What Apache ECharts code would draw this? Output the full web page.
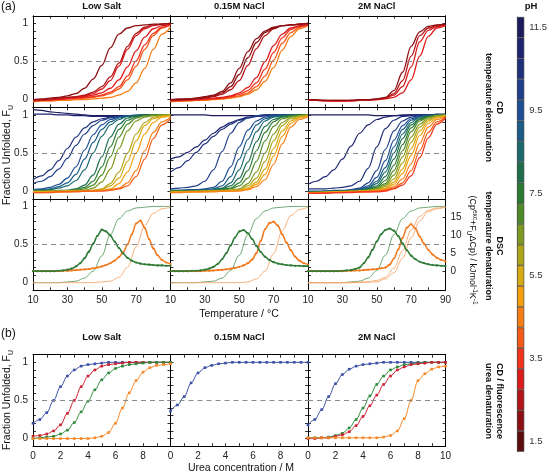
<!DOCTYPE html>
<html><head><meta charset="utf-8">
<script src="https://cdn.jsdelivr.net/npm/echarts@6/dist/echarts.min.js"></script>
<style>html,body{margin:0;padding:0;background:#fff}#c{width:550px;height:474px}</style>
</head><body><div id="c"></div>
<script>
// ================= DATA =================
const columnTitles = ['Low Salt', '0.15M NaCl', '2M NaCl'];
const phLevels = ['1.5','2.0','2.5','3.0','3.5','4.0','4.5','5.0','5.5','6.0','6.5','7.0','7.5','8.0','8.5','9.0','9.5','10.0','10.5','11.0','11.5'];
const phColors = ['#5e0b0d','#8c1013','#b41518','#dc1c1c','#f2341c','#f65a18','#f77e14','#f4a00e','#d6aa12','#aea61a','#7e9a22','#4f8a2a','#2b7a32','#1e6e4e','#1a6a6c','#1b5c86','#1e4e94','#1f3f8a','#1f307c','#1e2470','#1b1b5e'];
const phTickLabels = ['1.5','3.5','5.5','7.5','9.5','11.5'];
const fracTickLabels = [0, 0.5, 1];
const tempTickLabels = [10, 30, 50, 70, 90];
const ureaTickLabels = [0, 2, 4, 6, 8, 10];
const cpTickLabels = [0, 5, 10, 15];

const tempGrid = [10,15,20,25,30,35,40,45,50,55,60,65,70,75,80,85,90];
const dscTempGrid = [10,12.5,15,17.5,20,22.5,25,27.5,30,32.5,35,37.5,40,42.5,45,47.5,50,52.5,55,57.5,60,62.5,65,67.5,70,72.5,75,77.5,80,82.5,85,87.5,90];
const ureaGrid = [0,0.5,1,1.5,2,2.5,3,3.5,4,4.5,5,5.5,6,6.5,7,7.5,8,8.5,9,9.5,10];

// CD temperature denaturation, acidic pH (top row)
const cdAcidLowPH = [2.0, 2.5, 3.0, 3.0, 3.5, 4.0, 4.5];
const cdAcidLow = [
  [0.00,0.01,0.02,0.03,0.05,0.08,0.15,0.27,0.45,0.68,0.86,0.94,0.97,0.98,0.99,0.99,1.00],
  [-0.01,0.00,0.01,0.02,0.03,0.04,0.06,0.10,0.17,0.30,0.48,0.70,0.87,0.95,0.98,0.99,1.00],
  [-0.01,0.00,0.00,0.01,0.02,0.03,0.05,0.08,0.14,0.25,0.44,0.66,0.84,0.93,0.97,0.99,1.00],
  [-0.01,-0.01,0.00,0.01,0.02,0.03,0.04,0.06,0.09,0.15,0.26,0.43,0.64,0.82,0.93,0.97,0.99],
  [-0.02,-0.01,0.00,0.00,0.01,0.02,0.03,0.04,0.06,0.10,0.17,0.31,0.51,0.72,0.87,0.95,0.98],
  [-0.02,-0.01,-0.01,0.00,0.01,0.01,0.02,0.03,0.05,0.08,0.14,0.26,0.44,0.66,0.84,0.94,0.98],
  [-0.03,-0.02,-0.02,-0.01,-0.01,0.00,0.00,0.01,0.02,0.03,0.06,0.11,0.22,0.41,0.66,0.86,0.95]
];
const cdAcidMidPH = [2.0, 2.0, 2.5, 3.0, 3.5, 4.0, 4.5];
const cdAcidMid = [
  [0.00,0.01,0.01,0.02,0.04,0.06,0.11,0.22,0.41,0.63,0.80,0.90,0.95,0.97,0.98,0.99,1.00],
  [0.00,0.00,0.01,0.02,0.03,0.05,0.09,0.17,0.33,0.55,0.75,0.88,0.94,0.97,0.98,0.99,1.00],
  [-0.01,0.00,0.00,0.01,0.02,0.04,0.07,0.13,0.25,0.45,0.67,0.84,0.93,0.97,0.98,0.99,1.00],
  [-0.01,-0.01,0.00,0.00,0.01,0.02,0.03,0.05,0.09,0.16,0.29,0.50,0.71,0.86,0.94,0.97,0.99],
  [-0.02,-0.01,-0.01,0.00,0.01,0.01,0.02,0.04,0.07,0.12,0.22,0.40,0.62,0.81,0.92,0.96,0.98],
  [-0.02,-0.02,-0.01,-0.01,0.00,0.01,0.01,0.03,0.05,0.09,0.17,0.31,0.52,0.74,0.88,0.95,0.98],
  [-0.03,-0.02,-0.02,-0.01,-0.01,0.00,0.01,0.02,0.04,0.07,0.13,0.24,0.42,0.65,0.83,0.93,0.97]
];
const cdAcidHighPH = [2.0, 2.5, 3.0, 3.0];
const cdAcidHigh = [
  [0.00,0.00,-0.01,-0.01,-0.01,-0.01,0.00,0.00,0.01,0.03,0.12,0.36,0.70,0.89,0.96,0.98,0.99],
  [0.00,-0.01,-0.01,-0.01,-0.01,-0.01,0.00,0.00,0.01,0.02,0.08,0.25,0.57,0.84,0.94,0.97,0.99],
  [-0.01,-0.01,-0.01,-0.02,-0.02,-0.01,-0.01,0.00,0.00,0.02,0.06,0.17,0.43,0.76,0.91,0.96,0.98],
  [-0.01,-0.01,-0.02,-0.02,-0.02,-0.02,-0.01,-0.01,0.00,0.01,0.03,0.09,0.26,0.57,0.83,0.94,0.97]
];

// CD temperature denaturation, neutral/alkaline pH (middle row)
const cdBaseLowPH = [11.5, 11.0, 10.5, 10.0, 9.5, 9.0, 8.5, 8.0, 7.5, 7.0, 6.5, 6.0, 5.5, 5.0, 4.5, 4.0];
const cdBaseLow = [
  [1.07,1.06,1.04,1.03,1.02,1.01,1.00,0.99,0.99,0.99,0.99,0.99,0.99,1.00,1.00,1.00,1.00],
  [1.01,1.01,1.01,1.00,1.00,0.99,0.99,0.98,0.98,0.98,0.98,0.99,0.99,0.99,1.00,1.00,1.00],
  [0.15,0.20,0.28,0.40,0.56,0.71,0.83,0.91,0.95,0.97,0.98,0.99,0.99,1.00,1.00,1.00,1.00],
  [0.10,0.13,0.19,0.29,0.43,0.60,0.75,0.86,0.93,0.96,0.98,0.99,0.99,1.00,1.00,1.00,1.00],
  [0.02,0.03,0.05,0.09,0.17,0.32,0.54,0.74,0.87,0.94,0.97,0.99,1.00,1.00,1.00,1.00,1.00],
  [0.01,0.02,0.03,0.06,0.11,0.22,0.42,0.64,0.81,0.91,0.96,0.98,0.99,1.00,1.00,1.00,1.00],
  [0.01,0.01,0.02,0.04,0.07,0.14,0.28,0.50,0.72,0.87,0.94,0.98,0.99,1.00,1.00,1.00,1.00],
  [0.00,0.00,0.00,0.01,0.01,0.03,0.08,0.21,0.45,0.71,0.88,0.96,0.99,1.00,1.00,1.00,1.00],
  [0.00,0.00,0.00,0.00,0.01,0.02,0.05,0.13,0.32,0.58,0.81,0.93,0.97,0.99,1.00,1.00,1.00],
  [0.00,0.00,0.00,0.00,0.00,0.01,0.03,0.08,0.21,0.45,0.71,0.88,0.96,0.99,1.00,1.00,1.00],
  [0.00,0.00,0.00,0.00,0.00,0.01,0.01,0.04,0.12,0.29,0.56,0.79,0.92,0.97,0.99,1.00,1.00],
  [-0.01,-0.01,0.00,0.00,0.00,0.00,0.01,0.01,0.03,0.10,0.25,0.50,0.75,0.90,0.97,0.99,1.00],
  [-0.01,-0.01,-0.01,0.00,0.00,0.00,0.00,0.01,0.02,0.07,0.17,0.39,0.66,0.86,0.95,0.98,0.99],
  [-0.01,-0.01,-0.01,-0.01,0.00,0.00,0.00,0.01,0.01,0.03,0.10,0.25,0.50,0.75,0.90,0.97,0.99],
  [-0.02,-0.02,-0.01,-0.01,-0.01,0.00,0.00,0.00,0.01,0.02,0.04,0.11,0.27,0.53,0.77,0.91,0.97],
  [-0.02,-0.02,-0.02,-0.01,-0.01,-0.01,0.00,0.00,0.00,0.01,0.03,0.07,0.19,0.42,0.69,0.87,0.95]
];
const cdBaseMidPH = [11.5, 11.0, 10.5, 10.0, 9.5, 9.0, 8.5, 8.0, 7.5, 7.0, 6.5, 6.0, 5.5, 5.0, 4.5];
const cdBaseMid = [
  [1.00,1.00,1.00,1.00,1.00,0.99,0.99,0.99,0.99,0.99,0.99,1.00,1.00,1.00,1.00,1.00,1.00],
  [0.42,0.45,0.51,0.58,0.67,0.76,0.84,0.90,0.94,0.97,0.98,0.99,1.00,1.00,1.00,1.00,1.00],
  [0.25,0.31,0.40,0.51,0.62,0.72,0.81,0.88,0.93,0.96,0.98,0.99,1.00,1.00,1.00,1.00,1.00],
  [0.03,0.04,0.05,0.07,0.13,0.28,0.52,0.76,0.90,0.96,0.99,1.00,1.00,1.00,1.00,1.00,1.00],
  [0.01,0.01,0.02,0.02,0.03,0.05,0.13,0.32,0.58,0.80,0.92,0.97,0.99,1.00,1.00,1.00,1.00],
  [0.01,0.01,0.01,0.02,0.02,0.03,0.07,0.19,0.42,0.68,0.87,0.95,0.98,0.99,1.00,1.00,1.00],
  [0.00,0.00,0.01,0.01,0.01,0.02,0.04,0.11,0.28,0.54,0.78,0.92,0.97,0.99,1.00,1.00,1.00],
  [0.00,0.00,0.00,0.00,0.01,0.01,0.03,0.07,0.17,0.38,0.65,0.85,0.94,0.98,0.99,1.00,1.00],
  [0.00,0.00,0.00,0.00,0.00,0.01,0.02,0.04,0.11,0.27,0.53,0.77,0.91,0.97,0.99,1.00,1.00],
  [0.00,0.00,0.00,0.00,0.00,0.00,0.01,0.03,0.07,0.17,0.39,0.66,0.85,0.95,0.98,0.99,1.00],
  [-0.01,-0.01,0.00,0.00,0.00,0.00,0.01,0.01,0.03,0.10,0.25,0.50,0.75,0.90,0.97,0.99,1.00],
  [-0.01,-0.01,-0.01,0.00,0.00,0.00,0.00,0.01,0.02,0.07,0.17,0.39,0.66,0.86,0.95,0.98,0.99],
  [-0.01,-0.01,-0.01,-0.01,0.00,0.00,0.00,0.01,0.01,0.04,0.12,0.29,0.56,0.79,0.92,0.97,0.99],
  [-0.02,-0.01,-0.01,-0.01,-0.01,0.00,0.00,0.00,0.01,0.03,0.09,0.22,0.46,0.72,0.89,0.96,0.99],
  [-0.02,-0.02,-0.01,-0.01,-0.01,-0.01,0.00,0.00,0.00,0.02,0.06,0.15,0.35,0.62,0.84,0.94,0.98]
];
const cdBaseHighPH = [11.5, 11.0, 10.5, 10.0, 9.5, 9.0, 8.5, 8.0, 7.5, 7.0, 6.5, 6.0, 5.5, 5.0, 4.5, 4.0, 3.5];
const cdBaseHigh = [
  [1.00,1.00,1.00,1.00,1.00,1.00,1.00,1.00,0.99,0.99,0.99,0.99,1.00,1.00,1.00,1.01,1.01],
  [0.09,0.13,0.19,0.28,0.42,0.59,0.76,0.87,0.94,0.97,0.99,1.00,1.00,1.00,1.00,1.00,1.00],
  [0.03,0.03,0.03,0.04,0.05,0.07,0.13,0.30,0.58,0.82,0.93,0.98,0.99,1.00,1.00,1.00,1.00],
  [0.00,0.00,0.00,0.01,0.01,0.02,0.04,0.11,0.27,0.55,0.79,0.92,0.97,0.99,1.00,1.00,1.00],
  [-0.01,-0.01,0.00,0.00,0.00,0.01,0.03,0.07,0.18,0.40,0.67,0.86,0.95,0.98,0.99,1.00,1.00],
  [-0.01,-0.01,0.00,0.00,0.00,0.01,0.02,0.05,0.13,0.31,0.58,0.81,0.93,0.97,0.99,1.00,1.00],
  [-0.01,-0.01,-0.01,0.00,0.00,0.00,0.01,0.04,0.10,0.25,0.50,0.75,0.90,0.97,0.99,1.00,1.00],
  [-0.01,-0.01,-0.01,0.00,0.00,0.00,0.01,0.03,0.07,0.19,0.42,0.69,0.87,0.95,0.98,0.99,1.00],
  [-0.02,-0.01,-0.01,-0.01,0.00,0.00,0.01,0.02,0.05,0.14,0.34,0.61,0.83,0.94,0.98,0.99,1.00],
  [-0.02,-0.01,-0.01,-0.01,0.00,0.00,0.00,0.01,0.04,0.10,0.27,0.53,0.78,0.92,0.97,0.99,1.00],
  [-0.02,-0.02,-0.01,-0.01,-0.01,0.00,0.00,0.01,0.03,0.08,0.21,0.45,0.71,0.88,0.96,0.99,1.00],
  [-0.02,-0.02,-0.01,-0.01,-0.01,0.00,0.00,0.01,0.02,0.06,0.16,0.37,0.64,0.84,0.94,0.98,0.99],
  [-0.02,-0.02,-0.02,-0.01,-0.01,-0.01,0.00,0.00,0.01,0.04,0.12,0.29,0.56,0.79,0.92,0.97,0.99],
  [-0.02,-0.02,-0.02,-0.01,-0.01,-0.01,0.00,0.00,0.01,0.03,0.09,0.23,0.47,0.73,0.89,0.96,0.99],
  [-0.03,-0.02,-0.02,-0.02,-0.01,-0.01,-0.01,0.00,0.00,0.02,0.06,0.16,0.36,0.63,0.84,0.94,0.98],
  [-0.03,-0.03,-0.02,-0.02,-0.02,-0.01,-0.01,-0.01,0.00,0.01,0.04,0.11,0.27,0.53,0.77,0.91,0.97],
  [-0.03,-0.03,-0.03,-0.02,-0.02,-0.02,-0.01,-0.01,-0.01,0.00,0.03,0.08,0.20,0.44,0.70,0.88,0.96]
];

// DSC: excess heat capacity (kJ/mol/K, right axis) and fraction unfolded (left axis)
const dscCpGreenLow  = [0,0,0,0,0,0,0.1,0.2,0.4,0.7,1.3,2.2,3.6,5.4,7.6,9.8,11.5,11.0,9.9,8.2,6.4,4.9,3.7,2.9,2.4,2.1,1.9,1.8,1.7,1.6,1.6,1.5,1.5];
const dscCpOrangeLow = [0,0,0,0,0,0,0,0.1,0.1,0.2,0.3,0.4,0.5,0.6,0.8,1.0,1.3,1.7,2.2,2.9,3.9,5.3,7.4,10.2,13.2,14.0,12.0,8.9,6.3,4.4,3.1,2.4,2.0];
const dscCpGreenMid  = [0,0,0,0,0,0.1,0.1,0.2,0.4,0.7,1.2,2.0,3.3,5.0,7.1,9.3,11.0,11.4,10.5,8.9,7.0,5.3,4.0,3.1,2.5,2.1,1.9,1.7,1.6,1.5,1.5,1.4,1.4];
const dscCpOrangeMid = [0,0,0,0,0,0,0,0,0.1,0.1,0.2,0.3,0.4,0.5,0.7,0.9,1.2,1.6,2.2,3.2,5.0,8.4,11.6,13.3,13.7,12.6,10.2,7.9,5.8,4.0,2.9,2.2,1.8];
const dscCpGreenHigh = [0,0,0,0,0,0,0,0,0.1,0.2,0.3,0.6,1.0,2.2,3.8,5.9,8.2,10.2,11.4,11.8,11.2,9.7,7.7,5.8,4.3,3.3,2.6,2.2,1.9,1.7,1.6,1.5,1.4];
const dscCpOrangeHigh = [0,0,0,0,0,0,0,0,0,0.1,0.1,0.2,0.2,0.3,0.4,0.5,0.6,0.8,1.0,1.8,3.5,6.0,9.2,12.0,13.0,11.8,9.6,7.6,5.9,4.6,3.7,3.1,2.7];
const dscFuGreenLow  = [0.00,0.00,0.00,0.00,0.01,0.02,0.06,0.15,0.35,0.63,0.84,0.94,0.98,0.99,1.00,1.00,1.00];
const dscFuOrangeLow = [0.00,0.00,0.00,0.00,0.00,0.00,0.00,0.00,0.01,0.02,0.07,0.20,0.47,0.75,0.91,0.97,0.99];
const dscFuGreenMid  = [0.00,0.00,0.00,0.00,0.01,0.02,0.06,0.16,0.36,0.63,0.84,0.94,0.98,0.99,1.00,1.00,1.00];
const dscFuOrangeMid = [0.00,0.00,0.00,0.00,0.00,0.00,0.00,0.00,0.00,0.01,0.05,0.15,0.38,0.68,0.88,0.96,0.99];
const dscFuGreenHigh = [0.00,0.00,0.00,0.00,0.00,0.01,0.02,0.06,0.16,0.36,0.63,0.84,0.94,0.98,0.99,1.00,1.00];
const dscFuOrangeHighA = [0.00,0.00,0.00,0.00,0.00,0.00,0.01,0.01,0.03,0.07,0.19,0.42,0.69,0.87,0.95,0.98,0.99];
const dscFuOrangeHighB = [0.00,0.00,0.00,0.00,0.00,0.00,0.00,0.01,0.01,0.05,0.13,0.32,0.59,0.81,0.93,0.97,0.99];

// Urea denaturation (panel b)
const ureaBlueLow   = [0.20,0.25,0.34,0.50,0.68,0.82,0.90,0.95,0.97,0.98,0.99,1.00,1.00,1.00,1.00,1.00,1.00,1.00,1.00,1.00,1.00];
const ureaRedLow    = [0.03,0.04,0.06,0.10,0.18,0.33,0.50,0.68,0.82,0.90,0.95,0.97,0.98,0.99,1.00,1.00,1.00,1.00,1.00,1.00,1.00];
const ureaGreenLow  = [0.00,0.01,0.02,0.03,0.06,0.11,0.21,0.35,0.49,0.64,0.77,0.86,0.92,0.95,0.97,0.98,0.99,1.00,1.00,1.00,1.00];
const ureaOrangeLow = [0.00,0.00,0.00,0.00,0.00,0.00,0.00,0.00,0.00,0.01,0.03,0.08,0.20,0.40,0.60,0.76,0.87,0.93,0.96,0.97,0.98];
const ureaBlueMid   = [0.36,0.44,0.55,0.73,0.86,0.93,0.96,0.98,0.99,1.00,1.00,1.00,1.00,1.00,1.00,1.00,1.00,1.00,1.00,1.00,1.00];
const ureaBlueHigh  = [0.18,0.25,0.38,0.55,0.72,0.84,0.91,0.95,0.97,0.98,0.99,1.00,1.00,1.00,1.00,1.00,1.00,1.00,1.00,1.00,1.00];
const ureaGreenHigh = [0.01,0.01,0.01,0.02,0.04,0.07,0.14,0.25,0.40,0.56,0.71,0.82,0.90,0.94,0.97,0.98,0.99,1.00,1.00,1.00,1.00];
const ureaRedHigh   = [0.00,0.00,0.01,0.01,0.03,0.05,0.09,0.17,0.29,0.43,0.57,0.71,0.82,0.90,0.94,0.97,0.98,0.99,1.00,1.00,1.00];
const ureaOrangeHigh= [0.01,0.01,0.01,0.01,0.01,0.01,0.01,0.01,0.01,0.01,0.01,0.02,0.04,0.10,0.26,0.50,0.76,0.85,0.91,0.94,0.95];

// ================= LAYOUT / STYLE =================
const FONT = 'Liberation Sans, Arial, Helvetica, sans-serif';
const colLeft = [33, 170.5, 308], colW = 137.5;
const rowTopA = [15.8, 107.3, 198.8], rowH = 91.5, rowTopB = 354.7;
const ureaColors = {blue:'#3a4fa5', red:'#cc2030', green:'#2f8a3c', orange:'#f5892a'};
const dscColors = {green:'#2d7a35', orange:'#f27a1e', greenThin:'#5e9f64', orangeThin:'#f7a86e'};

const grids = [], xAxes = [], yAxes = [], series = [];
const firstSeriesOfGrid = {};
function near(v, list) { return list.some(t => Math.abs(v - t) < 1e-6); }
function phColor(ph) { return phColors[phLevels.indexOf(ph.toFixed(1))]; }

const axisLineStyle = {show:true, onZero:false, lineStyle:{color:'#000', width:1}};
const tickStyle = {show:true, inside:true, length:3, lineStyle:{color:'#000', width:0.8}};

function addPanel(col, top, kind, showX, showY) {
  const g = grids.length;
  grids.push({left: colLeft[col], top: top, width: colW, height: rowH});
  const isUrea = kind === 'urea';
  const xmin = isUrea ? 0 : 10, xmax = isUrea ? 10 : 90, xint = isUrea ? 1 : 10;
  const xLabels = (isUrea ? ureaTickLabels : tempTickLabels).filter(v => col === 2 || v !== xmax);
  xAxes.push({type:'value', gridIndex:g, min:xmin, max:xmax, interval:xint, position:'bottom',
    axisLine:axisLineStyle, axisTick:tickStyle, splitLine:{show:false},
    axisLabel:{show:showX, fontSize:10, color:'#222', margin:5, fontFamily:FONT,
      formatter: v => near(v, xLabels) ? String(v) : ''}});
  xAxes.push({type:'value', gridIndex:g, min:xmin, max:xmax, interval:xint, position:'top',
    axisLine:axisLineStyle, axisTick:tickStyle, splitLine:{show:false}, axisLabel:{show:false}});
  yAxes.push({type:'value', gridIndex:g, min:-0.1, max:1.1, interval:0.1, position:'left',
    axisLine:axisLineStyle, axisTick:tickStyle, splitLine:{show:false},
    axisLabel:{show:showY, fontSize:10, color:'#222', margin:5, fontFamily:FONT,
      formatter: v => { const r = Math.round(v * 10) / 10; return near(r, fracTickLabels) ? String(r === 0 ? 0 : r) : ''; }}});
  if (kind === 'dsc') {
    yAxes.push({type:'value', gridIndex:g, min:-5.3, max:20.04, position:'right',
      axisLine:axisLineStyle, splitLine:{show:false},
      axisTick:{show:true, inside:true, length:3, lineStyle:{color:'#000', width:0.8}, customValues:cpTickLabels},
      axisLabel:{show: col === 2, fontSize:10, color:'#222', margin:5, fontFamily:FONT, customValues:cpTickLabels}});
  } else {
    yAxes.push({type:'value', gridIndex:g, min:-0.1, max:1.1, interval:0.1, position:'right',
      axisLine:axisLineStyle, axisTick:tickStyle, splitLine:{show:false}, axisLabel:{show:false}});
  }
  return g;
}

function addLine(g, right, xs, ys, color, width, extra) {
  const s = Object.assign({
    type:'line', xAxisIndex:2 * g, yAxisIndex:2 * g + (right ? 1 : 0),
    data: xs.map((x, i) => [x, ys[i]]),
    smooth:0.35, smoothMonotone:'x', showSymbol:false, symbol:'none',
    lineStyle:{color:color, width:width}, itemStyle:{color:color},
    silent:true, animation:false, z:3
  }, extra || {});
  if (!right && firstSeriesOfGrid[g] === undefined) {
    firstSeriesOfGrid[g] = series.length;
    s.markLine = {silent:true, symbol:'none', animation:false, label:{show:false},
      lineStyle:{type:[5,4], color:'#8a8a8a', width:1}, data:[{yAxis:0.5}]};
  }
  series.push(s);
}

// ---- Row 1: acidic CD ----
[[cdAcidLowPH, cdAcidLow], [cdAcidMidPH, cdAcidMid], [cdAcidHighPH, cdAcidHigh]].forEach(([phs, curves], col) => {
  const g = addPanel(col, rowTopA[0], 'cd', false, col === 0);
  curves.slice().reverse().forEach((ys, k) => {
    const i = curves.length - 1 - k;
    addLine(g, false, tempGrid, ys, phColor(phs[i]), 1.3);
  });
});
// ---- Row 2: neutral / alkaline CD ----
[[cdBaseLowPH, cdBaseLow], [cdBaseMidPH, cdBaseMid], [cdBaseHighPH, cdBaseHigh]].forEach(([phs, curves], col) => {
  const g = addPanel(col, rowTopA[1], 'cd', false, col === 0);
  curves.forEach((ys, i) => addLine(g, false, tempGrid, ys, phColor(phs[i]), 1.2));
});
// ---- Row 3: DSC ----
[
  [dscFuGreenLow, [dscFuOrangeLow], dscCpGreenLow, dscCpOrangeLow],
  [dscFuGreenMid, [dscFuOrangeMid], dscCpGreenMid, dscCpOrangeMid],
  [dscFuGreenHigh, [dscFuOrangeHighA, dscFuOrangeHighB], dscCpGreenHigh, dscCpOrangeHigh]
].forEach(([fuG, fuOs, cpG, cpO], col) => {
  const g = addPanel(col, rowTopA[2], 'dsc', true, col === 0);
  addLine(g, false, tempGrid, fuG, dscColors.greenThin, 0.9);
  fuOs.forEach(fo => addLine(g, false, tempGrid, fo, dscColors.orangeThin, 0.9));
  const sym = {showSymbol:true, symbol:'circle', symbolSize:2.2};
  addLine(g, true, dscTempGrid, cpO, dscColors.orange, 1.6, sym);
  addLine(g, true, dscTempGrid, cpG, dscColors.green, 1.6, sym);
});
// ---- Panel b: urea ----
[
  [[ureaBlueLow,'blue'], [ureaRedLow,'red'], [ureaGreenLow,'green'], [ureaOrangeLow,'orange']],
  [[ureaBlueMid,'blue']],
  [[ureaBlueHigh,'blue'], [ureaGreenHigh,'green'], [ureaRedHigh,'red'], [ureaOrangeHigh,'orange']]
].forEach((curves, col) => {
  const g = addPanel(col, rowTopB, 'urea', true, col === 0);
  curves.forEach(([ys, c]) => addLine(g, false, ureaGrid, ys, ureaColors[c], 1,
    {showSymbol:true, symbol:'rect', symbolSize:2.6}));
});

// ---- pH colour bar ----
const cbIndex = grids.length;
grids.push({left:517, top:17, width:11.3, height:434.7});
xAxes.push({type:'value', gridIndex:cbIndex, min:0, max:1, show:false});
yAxes.push({type:'category', gridIndex:cbIndex, data:phLevels, position:'right',
  axisLine:{show:true, lineStyle:{color:'#555', width:0.8}}, axisTick:{show:false}, splitLine:{show:false},
  axisLabel:{interval:0, fontSize:9.5, color:'#333', margin:5, fontFamily:FONT,
    formatter: v => phTickLabels.includes(v) ? v : ''}});
series.push({type:'bar', xAxisIndex:2 * cbIndex, yAxisIndex:2 * cbIndex, barWidth:'100%', silent:true, animation:false,
  data: phLevels.map((p, i) => ({value:1, itemStyle:{color:phColors[i]}})),
  itemStyle:{borderColor:'#3a3a3a', borderWidth:0.6}});
while (xAxes.length < 2 * cbIndex + 1) xAxes.splice(xAxes.length - 1, 0, {type:'value', gridIndex:cbIndex, show:false});
while (yAxes.length < 2 * cbIndex + 1) yAxes.splice(yAxes.length - 1, 0, {type:'value', gridIndex:cbIndex, show:false});

// ---- Text ----
function txt(x, y, text, o) {
  o = o || {};
  return {type:'text', x:x, y:y, rotation:o.rot || 0, silent:true, z:10,
    style:{text:text, fontFamily:FONT, fontSize:o.size || 10, fontWeight:o.bold ? 'bold' : 'normal',
      fill:o.color || '#111', align:o.align || 'center', verticalAlign:'middle',
      lineHeight:o.lh, rich:o.rich}};
}
const colCenters = colLeft.map(l => l + colW / 2);
const graphics = [
  txt(1, 6.5, '(a)', {size:12, align:'left'}),
  txt(1, 334, '(b)', {size:12, align:'left'}),
  ...columnTitles.map((t, i) => txt(colCenters[i], 6.5, t, {bold:true, size:9.5})),
  ...columnTitles.map((t, i) => txt(colCenters[i], 337, t, {bold:true, size:9.5})),
  txt(239, 314.5, 'Temperature / °C', {size:10.5}),
  txt(241, 468, 'Urea concentration / M', {size:10.5}),
  txt(7.5, 155, '{m|Fraction Unfolded, F}{s|U}', {rot:Math.PI / 2,
    rich:{m:{fontSize:10.5, fontFamily:FONT, fill:'#111', lineHeight:14}, s:{fontSize:7, fontFamily:FONT, fill:'#111', verticalAlign:'bottom'}}}),
  txt(7.5, 400, '{m|Fraction Unfolded, F}{s|U}', {rot:Math.PI / 2,
    rich:{m:{fontSize:10.5, fontFamily:FONT, fill:'#111', lineHeight:14}, s:{fontSize:7, fontFamily:FONT, fill:'#111', verticalAlign:'bottom'}}}),
  txt(494, 107.5, 'CD\ntemperature denaturation', {rot:-Math.PI / 2, bold:true, size:9, lh:10.5}),
  txt(494, 246, 'DSC\ntemperature denaturation', {rot:-Math.PI / 2, bold:true, size:9, lh:10.5}),
  txt(494, 401, 'CD / fluorescence\nurea denaturation', {rot:-Math.PI / 2, bold:true, size:9, lh:10.5}),
  txt(472, 250, '{m|(Cp}{p|exc}{m|+F}{b|U}{m|ΔCp) / kJmol}{p|-1}{m|K}{p|-1}', {rot:-Math.PI / 2,
    rich:{m:{fontSize:9, fontFamily:FONT, fill:'#111', lineHeight:13}, p:{fontSize:6.5, fontFamily:FONT, fill:'#111', verticalAlign:'top'}, b:{fontSize:6.5, fontFamily:FONT, fill:'#111', verticalAlign:'bottom'}}}),
  txt(531, 6, 'pH', {bold:true, size:9.5})
];

const chart = echarts.init(document.getElementById('c'), null, {renderer:'canvas'});
chart.setOption({
  animation:false,
  backgroundColor:'#fff',
  textStyle:{fontFamily:FONT},
  grid:grids, xAxis:xAxes, yAxis:yAxes, series:series, graphic:graphics
});
</script>
</body></html>
